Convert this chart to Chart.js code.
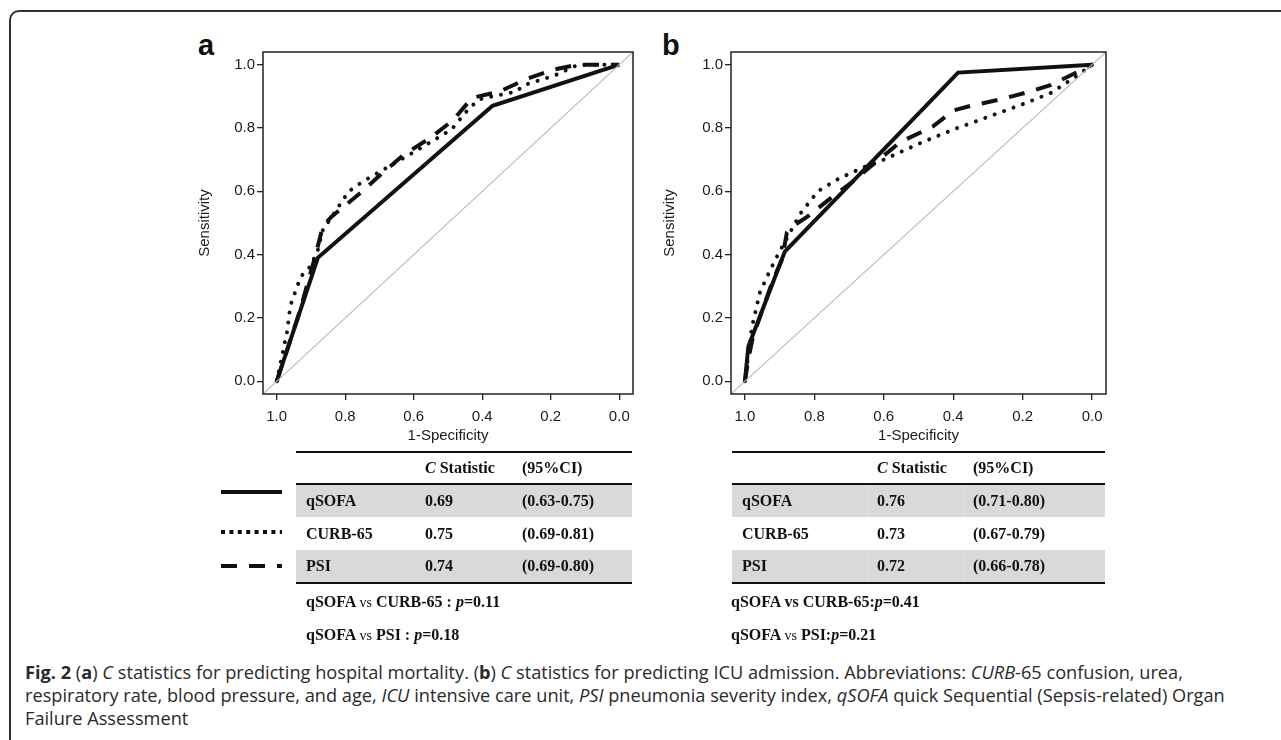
<!DOCTYPE html>
<html lang="en">
<head>
<meta charset="UTF-8">
<title>Fig. 2 ROC curves</title>
<script src="https://cdn.jsdelivr.net/npm/chart.js"></script>
<style>
    body { margin: 0; background: #fff; width: 1281px; height: 740px; overflow: hidden; position: relative; }
    .frame { position: absolute; left: 9px; top: 10px; width: 1320px; height: 740px; border: 2px solid #333; border-radius: 10px; box-sizing: border-box; }
    canvas { position: absolute; }
    .panel { position: absolute; font: bold 29px "Liberation Sans", Arial, sans-serif; color: #111; line-height: 1; }
    .tbl { position: absolute; font: bold 16px "Liberation Serif", "Times New Roman", serif; color: #111; }
    .tbl .hd { position: relative; height: 30px; border-top: 2.5px solid #111; border-bottom: 2px solid #111; }
    .tbl .r { position: relative; height: 32px; }
    .tbl .r.mid { height: 33px; }
    .tbl .r.last { border-bottom: 2.5px solid #111; }
    .tbl .g { background: #d9d9d9; }
    .tbl span { position: absolute; top: 0; bottom: 0; display: flex; align-items: center; white-space: nowrap; }
    .tbl.b .g span.sep { border-left: 1px solid #e4e4e4; }
    .pv { position: absolute; font: bold 16px "Liberation Serif", "Times New Roman", serif; color: #111; white-space: nowrap; }
    .pv .vs { font-weight: normal; font-size: 14px; }
    .caption { position: absolute; left: 25px; top: 661px; font: 18.2px/23px "Open Sans", sans-serif; color: #2a2a2a; white-space: nowrap; }
</style>
</head>
<body>
<div class="frame"></div>

<div class="panel" style="left:198px; top:31px;">a</div>
<div class="panel" style="left:662px; top:31px;">b</div>

<canvas id="rocA" width="470" height="440" style="left:180px; top:20px;"></canvas>
<canvas id="rocB" width="475" height="440" style="left:648px; top:20px;"></canvas>

<!-- line key next to table a -->
<svg style="position:absolute; left:215px; top:480px;" width="75" height="100">
    <line x1="6" y1="12" x2="67" y2="12" stroke="#111" stroke-width="4"/>
    <line x1="6" y1="52" x2="67" y2="52" stroke="#111" stroke-width="4" stroke-dasharray="4 4.4"/>
    <line x1="6" y1="86" x2="67" y2="86" stroke="#111" stroke-width="4" stroke-dasharray="16 12"/>
</svg>

<div class="tbl" style="left:296px; top:451px; width:336px;">
    <div class="hd"><span style="left:129px;"><i>C</i>&nbsp;Statistic</span><span style="left:226px;">(95%CI)</span></div>
    <div class="r g"><span style="left:10px;">qSOFA</span><span style="left:129px;">0.69</span><span style="left:226px;">(0.63-0.75)</span></div>
    <div class="r mid"><span style="left:10px;">CURB-65</span><span style="left:129px;">0.75</span><span style="left:226px;">(0.69-0.81)</span></div>
    <div class="r g last"><span style="left:10px;">PSI</span><span style="left:129px;">0.74</span><span style="left:226px;">(0.69-0.80)</span></div>
</div>
<div class="pv" style="left:306px; top:593px;">qSOFA <span class="vs">vs</span> CURB-65 : <i>p</i>=0.11</div>
<div class="pv" style="left:306px; top:626px;">qSOFA <span class="vs">vs</span> PSI : <i>p</i>=0.18</div>

<div class="tbl b" style="left:732px; top:451px; width:373px;">
    <div class="hd"><span style="left:145px;"><i>C</i>&nbsp;Statistic</span><span style="left:241px;">(95%CI)</span></div>
    <div class="r g"><span style="left:10px;">qSOFA</span><span class="sep" style="left:135px; padding-left:9px;">0.76</span><span class="sep" style="left:231px; padding-left:9px;">(0.71-0.80)</span></div>
    <div class="r mid"><span style="left:10px;">CURB-65</span><span style="left:145px;">0.73</span><span style="left:241px;">(0.67-0.79)</span></div>
    <div class="r g last"><span style="left:10px;">PSI</span><span class="sep" style="left:135px; padding-left:9px;">0.72</span><span class="sep" style="left:231px; padding-left:9px;">(0.66-0.78)</span></div>
</div>
<div class="pv" style="left:731px; top:593px;">qSOFA vs CURB-65:<i>p</i>=0.41</div>
<div class="pv" style="left:731px; top:626px;">qSOFA <span class="vs">vs</span> PSI:<i>p</i>=0.21</div>

<div class="caption">
    <b>Fig. 2</b> (<b>a</b>) <i>C</i> statistics for predicting hospital mortality. (<b>b</b>) <i>C</i> statistics for predicting ICU admission. Abbreviations: <i>CURB</i>-65 confusion, urea,<br>
    respiratory rate, blood pressure, and age, <i>ICU</i> intensive care unit, <i>PSI</i> pneumonia severity index, <i>qSOFA</i> quick Sequential (Sepsis-related) Organ<br>
    Failure Assessment
</div>

<script>
    // axis ticks (both panels)
    const tickValues = [0, 0.2, 0.4, 0.6, 0.8, 1.0];
    const axisMin = -0.04;
    const axisMax = 1.04;

    // reference diagonal
    const refX = [1.04, -0.04];
    const refY = [-0.04, 1.04];

    // panel a - hospital mortality (x is specificity, shown 1.0 -> 0.0)
    const aQsofaX = [1.0, 0.88, 0.37, 0.0];
    const aQsofaY = [0.0, 0.39, 0.87, 1.0];
    const aCurbX = [1.0, 0.97, 0.96, 0.93, 0.90, 0.88, 0.865, 0.845, 0.79, 0.75, 0.67, 0.59, 0.49, 0.44, 0.41, 0.37, 0.30, 0.28, 0.19, 0.12, 0.0];
    const aCurbY = [0.0, 0.155, 0.24, 0.33, 0.365, 0.415, 0.48, 0.51, 0.60, 0.63, 0.68, 0.73, 0.795, 0.86, 0.89, 0.90, 0.915, 0.935, 0.965, 1.0, 1.0];
    const aPsiX = [1.0, 0.96, 0.93, 0.91, 0.89, 0.865, 0.84, 0.795, 0.75, 0.71, 0.63, 0.55, 0.485, 0.43, 0.35, 0.27, 0.19, 0.12, 0.0];
    const aPsiY = [0.0, 0.13, 0.23, 0.31, 0.385, 0.49, 0.52, 0.56, 0.60, 0.64, 0.715, 0.77, 0.825, 0.895, 0.915, 0.955, 0.985, 1.0, 1.0];

    // panel b - ICU admission
    const bQsofaX = [1.0, 0.99, 0.885, 0.386, 0.0];
    const bQsofaY = [0.0, 0.11, 0.41, 0.975, 1.0];
    const bCurbX = [1.0, 0.98, 0.957, 0.928, 0.90, 0.87, 0.84, 0.79, 0.73, 0.65, 0.60, 0.50, 0.40, 0.30, 0.20, 0.12, 0.05, 0.0];
    const bCurbY = [0.0, 0.17, 0.28, 0.35, 0.41, 0.47, 0.53, 0.60, 0.64, 0.68, 0.70, 0.75, 0.795, 0.835, 0.875, 0.91, 0.96, 1.0];
    const bPsiX = [1.0, 0.99, 0.977, 0.948, 0.919, 0.893, 0.879, 0.862, 0.82, 0.745, 0.69, 0.62, 0.553, 0.458, 0.40, 0.35, 0.265, 0.18, 0.12, 0.0];
    const bPsiY = [0.0, 0.07, 0.14, 0.23, 0.32, 0.385, 0.47, 0.49, 0.52, 0.585, 0.63, 0.695, 0.755, 0.805, 0.855, 0.87, 0.89, 0.915, 0.935, 1.0];

    const ink = '#111';

    function pts(xs, ys) {
        return xs.map((x, i) => ({ x: x, y: ys[i] }));
    }

    // frame round the plotting region, like R's box()
    const boxPlugin = {
        id: 'box',
        afterDraw(chart) {
            const { ctx, chartArea: a } = chart;
            ctx.save();
            ctx.strokeStyle = '#222';
            ctx.lineWidth = 1.5;
            ctx.strokeRect(a.left, a.top, a.right - a.left, a.bottom - a.top);
            ctx.restore();
        }
    };

    Chart.defaults.font.family = '"Liberation Sans", Arial, sans-serif';
    Chart.defaults.font.size = 15;
    Chart.defaults.color = '#1a1a1a';

    function makeRoc(id, qx, qy, cx, cy, px, py, titleLeft) {
        const ctx = document.getElementById(id).getContext('2d');
        return new Chart(ctx, {
            type: 'scatter',
            data: {
                datasets: [
                    { label: 'ref', data: pts(refX, refY), borderColor: '#bdbdbd', borderWidth: 1.2 },
                    { label: 'qSOFA', data: pts(qx, qy), borderColor: ink, borderWidth: 4, borderJoinStyle: 'miter' },
                    { label: 'CURB-65', data: pts(cx, cy), borderColor: ink, borderWidth: 4, borderDash: [0.01, 10], borderCapStyle: 'round' },
                    { label: 'PSI', data: pts(px, py), borderColor: ink, borderWidth: 4, borderDash: [16, 12] }
                ].map(d => Object.assign(d, { showLine: true, pointRadius: 0, tension: 0, fill: false })),
            },
            options: {
                responsive: false,
                animation: false,
                devicePixelRatio: 1,
                layout: { padding: { top: 32, right: 17, left: 0, bottom: 0 } },
                plugins: { legend: { display: false }, tooltip: { enabled: false } },
                scales: {
                    x: {
                        type: 'linear',
                        reverse: true,
                        min: axisMin,
                        max: axisMax,
                        afterBuildTicks: s => { s.ticks = tickValues.map(v => ({ value: v })); },
                        afterFit: s => { s.height = 66; },
                        ticks: { padding: 8, callback: v => v.toFixed(1), maxRotation: 0 },
                        grid: { drawOnChartArea: false, tickLength: 6, color: '#222', lineWidth: 1.3 },
                        border: { display: false },
                        title: { display: true, text: '1-Specificity', padding: { top: 0, bottom: 15 } }
                    },
                    y: {
                        type: 'linear',
                        min: axisMin,
                        max: axisMax,
                        afterBuildTicks: s => { s.ticks = tickValues.map(v => ({ value: v })); },
                        afterFit: s => { s.width = 83; },
                        ticks: { padding: 2, callback: v => v.toFixed(1) },
                        grid: { drawOnChartArea: false, tickLength: 6, color: '#222', lineWidth: 1.3 },
                        border: { display: false },
                        title: { display: true, text: 'Sensitivity', padding: { top: titleLeft, bottom: 0 } }
                    }
                }
            },
            plugins: [boxPlugin]
        });
    }

    makeRoc('rocA', aQsofaX, aQsofaY, aCurbX, aCurbY, aPsiX, aPsiY, 16);
    makeRoc('rocB', bQsofaX, bQsofaY, bCurbX, bCurbY, bPsiX, bPsiY, 13);
</script>
</body>
</html>
